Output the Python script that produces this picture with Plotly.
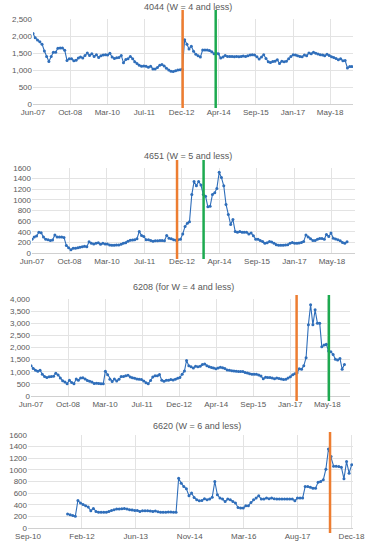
import pandas as pd
import plotly.graph_objects as go

# ---------------- data ----------------
v4044 = [2070, 1950, 1880, 1830, 1760, 1560, 1400, 1250, 1400, 1520,
         1520, 1640, 1650, 1650, 1580, 1280, 1330, 1330, 1270, 1290,
         1350, 1380, 1350, 1430, 1500, 1430, 1480, 1400, 1450, 1370,
         1420, 1440, 1450, 1440, 1490, 1380, 1340, 1360, 1370, 1430,
         1210, 1310, 1330, 1400, 1330, 1240, 1190, 1140, 1110, 1120,
         1110, 1080, 1110, 1030, 1030, 1070, 1140, 1160, 1120, 1050,
         1000, 965, 955, 975, 1000, 1010, 1020, 1890, 1760, 1620,
         1700, 1550, 1460, 1420, 1380, 1590, 1590, 1590, 1570, 1540,
         1480, 1500, 1480, 1350, 1380, 1430, 1400, 1400, 1400, 1390,
         1400, 1390, 1400, 1410, 1400, 1420, 1440, 1450, 1440, 1390,
         1320, 1380, 1450, 1340, 1240, 1220, 1250, 1260, 1300, 1190,
         1260, 1240, 1260, 1330, 1400, 1450, 1440, 1420, 1400, 1390,
         1440, 1420, 1500, 1480, 1520, 1490, 1470, 1450, 1440, 1420,
         1460, 1430, 1390, 1370, 1340, 1300, 1330, 1270, 1280, 1060,
         1100, 1100]

v4651 = [260, 300, 320, 390, 380, 300, 260, 250, 235, 245,
         340, 300, 300, 300, 290, 140, 100, 60, 90, 90,
         100, 110, 120, 125, 120, 210, 185, 170, 185, 195,
         165, 185, 170, 170, 150, 145, 145, 150, 150, 165,
         185, 195, 220, 240, 245, 250, 270, 405, 330, 310,
         250, 250, 235, 220, 230, 230, 235, 235, 230, 330,
         280, 270, 250, 240, 250, 260, 360, 500, 560, 590,
         1100, 1345, 1265, 1345, 1280, 1100, 1070, 870, 880, 1100,
         1135, 1215, 1520, 1420, 1265, 915, 725, 535, 630, 405,
         390, 405, 390, 390, 390, 360, 375, 325, 260, 260,
         235, 215, 185, 195, 215, 205, 185, 155, 145, 145,
         145, 150, 155, 185, 200, 185, 185, 190, 200, 215,
         340, 300, 270, 235, 235, 260, 275, 275, 260, 350,
         310, 375, 280, 265, 250, 230, 200, 185, 210]

v6208 = [1245, 1135, 1065, 1025, 1060, 900, 800, 760, 790, 800,
         815, 940, 870, 740, 630, 580, 510, 650, 555, 510,
         700, 650, 740, 750, 700, 640, 610, 580, 520, 530,
         520, 510, 510, 1025, 880, 690, 600, 700, 620, 690,
         800, 800, 830, 860, 780, 750, 730, 700, 690, 680,
         620, 550, 510, 640, 780, 830, 830, 885, 650, 610,
         650, 650, 680, 660, 690, 730, 760, 900, 1030, 1465,
         1245, 1205, 1150, 1230, 1205, 1230, 1300, 1320, 1250, 1210,
         1180, 1150, 1120, 1150, 1185, 1160, 1135, 1070, 1065, 1045,
         1030, 1025, 1010, 1010, 1010, 970, 950, 920, 900, 900,
         900, 870, 820, 710, 770, 760, 760, 740, 710, 745,
         725, 700, 680, 690, 740, 790, 880, 915, 955, 1120,
         1100, 1245, 1580, 2935, 3765, 2935, 3555, 3005, 3005, 2035,
         2100, 2130, 1855, 1825, 1715, 1520, 1480, 1550, 1105, 1300]

v6620 = [240, 229, 217, 200, 474, 429, 405, 383, 360, 297,
         337, 286, 269, 269, 269, 269, 286, 303, 314, 326,
         326, 331, 337, 326, 314, 309, 303, 303, 286, 297,
         297, 297, 291, 286, 291, 280, 269, 269, 269, 274,
         274, 269, 269, 857, 771, 714, 674, 554, 600, 525,
         486, 469, 474, 503, 486, 497, 531, 800, 571, 514,
         497, 457, 497, 486, 457, 429, 354, 343, 343, 383,
         383, 440, 486, 514, 554, 497, 497, 514, 503, 514,
         503, 497, 497, 497, 497, 497, 497, 497, 469, 514,
         514, 514, 714, 714, 703, 686, 686, 789, 800, 829,
         1011, 1360, 1230, 1063, 1063, 1057, 1046, 846, 1143, 943,
         1090]

ticks_a = ["Jun-07", "Oct-08", "Mar-10", "Jul-11", "Dec-12", "Apr-14",
           "Sep-15", "Jan-17", "May-18"]
ticks_b = ["Sep-10", "Feb-12", "Jun-13", "Nov-14", "Mar-16", "Aug-17", "Dec-18"]

titles = ["4044 (W = 4 and less)", "4651 (W = 5 and less)",
          "6208 (for W = 4 and less)", "6620 (W = 6 and less)"]

orange_dates = ["2012-12-20", "2012-10-01", "2017-04-10", "2018-06-01"]
green_dates = ["2014-03-10", "2013-09-20", "2018-06-20", None]

# ---------------- dates ----------------
def monthly(n):
    return pd.date_range("2007-06-01", periods=n, freq="MS") + pd.Timedelta(days=15)

x4044 = monthly(len(v4044))
x4651 = monthly(len(v4651))
x6208 = monthly(len(v6208))
x6620 = pd.date_range("2011-10-02", "2018-12-19", periods=len(v6620))

tv_a = pd.date_range("2007-06-16", periods=len(ticks_a), freq="500D")
tv_b = pd.date_range("2010-09-30", periods=len(ticks_b), freq="500D")

# ---------------- layout geometry ----------------
W, H = 366, 550
panels = [
    # (x0, x1, ytop, ybot, title_y, title_x, line_top, line_bot)
    (33, 353, 19, 104, 7, 188, 10, 108),
    (32, 355, 168, 253, 156, 188, 160, 259),
    (31, 350, 299, 396, 287, 183, 295, 401),
    (28, 353, 435, 528, 426, 197, 432, 533),
]
yranges = [(0, 2500, 500, ","), (0, 1600, 200, "d"), (0, 4000, 500, ","), (0, 1600, 200, "d")]
xranges = [("2007-06-16", "2019-04-01"), ("2007-06-16", "2019-04-01"),
           ("2007-06-16", "2019-04-01"), ("2010-09-30", "2018-12-31")]
series = [(x4044, v4044), (x4651, v4651), (x6208, v6208), (x6620, v6620)]
tickinfo = [(tv_a, ticks_a)] * 3 + [(tv_b, ticks_b)]

BLUE = "#2F6EBA"
ORANGE = "#ED7D31"
GREEN = "#1DAA50"
GRID = "#E3E3E3"
TXT = "#595959"
FONT = "Liberation Sans"

fig = go.Figure()
layout = dict(width=W, height=H, margin=dict(l=0, r=0, t=0, b=0, autoexpand=False),
              paper_bgcolor="white", plot_bgcolor="white", showlegend=False,
              font=dict(family=FONT, size=8, color=TXT))
annotations = []
shapes = []

for k in range(4):
    x0, x1, yt, yb, ty, tx, lt, lb = panels[k]
    sfx = "" if k == 0 else str(k + 1)
    xs, ys = series[k]
    fig.add_trace(go.Scatter(x=xs, y=ys, mode="lines+markers",
                             line=dict(color=BLUE, width=1.1),
                             marker=dict(color=BLUE, size=3),
                             xaxis="x" + sfx, yaxis="y" + sfx))
    lo, hi, dt, fmt = yranges[k]
    tv, tt = tickinfo[k]
    layout["xaxis" + sfx] = dict(domain=[x0 / W, x1 / W], anchor="y" + sfx, type="date",
                                 range=list(xranges[k]), tickmode="array", automargin=False,
                                 tickvals=list(tv), ticktext=tt, showgrid=True,
                                 gridcolor=GRID, gridwidth=1, showline=False, zeroline=False,
                                 ticks="", tickfont=dict(size=8, color=TXT), ticklabelstandoff=2)
    layout["yaxis" + sfx] = dict(domain=[1 - yb / H, 1 - yt / H], anchor="x" + sfx,
                                 range=[lo, hi], dtick=dt, tick0=0, tickformat=fmt,
                                 automargin=False,
                                 showgrid=True, gridcolor=GRID, gridwidth=1, zeroline=True,
                                 zerolinecolor="#D0D0D0", zerolinewidth=1, showline=False,
                                 ticks="", tickfont=dict(size=8, color=TXT))
    annotations.append(dict(text=titles[k], x=tx / W, y=1 - ty / H, xref="paper", yref="paper",
                            showarrow=False, xanchor="center", yanchor="middle",
                            font=dict(size=9, color=TXT, family=FONT)))
    for d, c in ((orange_dates[k], ORANGE), (green_dates[k], GREEN)):
        if d is None:
            continue
        shapes.append(dict(type="line", xref="x" + sfx, yref="paper", x0=d, x1=d,
                           y0=1 - lb / H, y1=1 - lt / H, line=dict(color=c, width=2.5)))

layout["annotations"] = annotations
layout["shapes"] = shapes
fig.update_layout(**layout)
fig.write_html("out.html", config={"displayModeBar": False},
               post_script="document.body.style.margin='0';document.body.style.overflow='hidden';")
